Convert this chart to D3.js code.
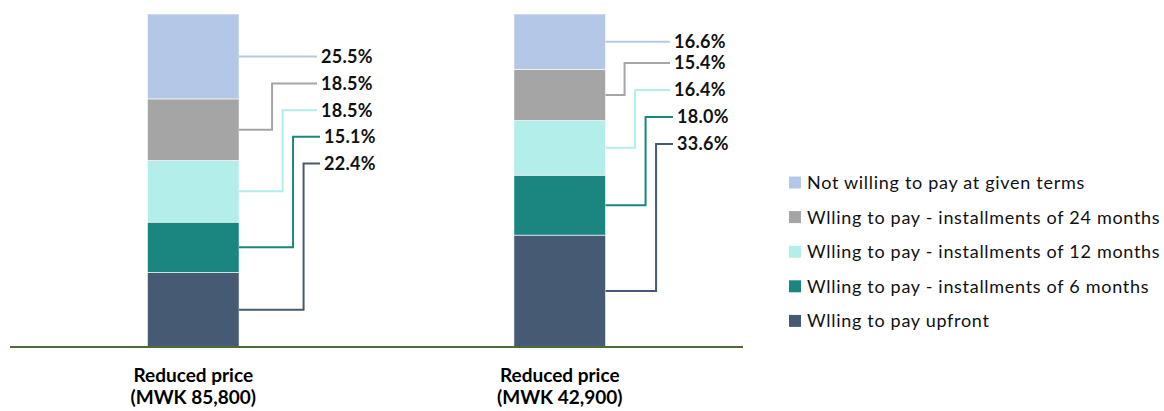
<!DOCTYPE html>
<html><head><meta charset="utf-8">
<script src="https://cdn.jsdelivr.net/npm/d3@7"></script>
<style>
html,body{margin:0;padding:0;background:#fff;}
svg{display:block;font-family:Lato,"Open Sans",sans-serif;}
</style></head>
<body><svg id="chart" width="1164" height="411"></svg>
<script>
// ---- data ----
const categories = ["Reduced price\n(MWK 85,800)", "Reduced price\n(MWK 42,900)"];
const seriesNames = [
  "Wlling to pay upfront",
  "Wlling to pay - installments of 6 months",
  "Wlling to pay - installments of 12 months",
  "Wlling to pay - installments of 24 months",
  "Not willing to pay at given terms"
];
const upfront      = [22.4, 33.6];
const months6      = [15.1, 18.0];
const months12     = [18.5, 16.4];
const months24     = [18.5, 15.4];
const notWilling   = [25.5, 16.6];
const colors = ["#475a73", "#1a867f", "#b3eeeb", "#a5a5a5", "#b4c7e7"];

const seriesValues = [upfront, months6, months12, months24, notWilling];

// ---- layout ----
const svg = d3.select("#chart");
const x = d3.scaleBand().domain(categories).range([10, 743]).paddingInner(0.75).paddingOuter(0.375);
const y = d3.scaleLinear().domain([0, 100]).range([347, 14]);

const rows = categories.map((c, i) => {
  const o = {cat: c};
  seriesNames.forEach((s, k) => o[s] = seriesValues[k][i]);
  return o;
});
const stack = d3.stack().keys(seriesNames)(rows);

// bars
stack.forEach((layer, k) => {
  svg.append("g").selectAll("rect").data(layer).join("rect")
    .attr("x", d => x(d.data.cat))
    .attr("width", x.bandwidth())
    .attr("y", d => y(d[1]))
    .attr("height", d => y(d[0]) - y(d[1]))
    .attr("fill", colors[k])
    .attr("stroke", "#ffffff").attr("stroke-width", 0.6);
});

// axis line
svg.append("line").attr("x1", 10).attr("x2", 743).attr("y1", y(0)).attr("y2", y(0))
  .attr("stroke", "#4f6b3a").attr("stroke-width", 1.8);

// category labels
categories.forEach(c => {
  const t = svg.append("text").attr("x", x(c) + x.bandwidth() / 2).attr("text-anchor", "middle")
    .attr("font-weight", "bold").attr("font-size", 19).attr("fill", "#000");
  c.split("\n").forEach((ln, j) => {
    t.append("tspan").attr("x", x(c) + x.bandwidth() / 2).attr("y", 382 + j * 21.5).text(ln);
  });
});

// leader lines + data labels
const labelTop = [57, 36];        // y of top label per bar
const labelGap = [26.6, 27];
const elbowStart = [33, 19];      // offset of first elbow from bar's right edge
const elbowStep = 10.5;
const labelLineEnd = [317, 670];
categories.forEach((c, i) => {
  const right = x(c) + x.bandwidth();
  for (let r = 0; r < 5; r++) {
    const k = 4 - r;
    const seg = stack[k][i];
    const ym = y((seg[0] + seg[1]) / 2);
    const ly = labelTop[i] + r * labelGap[i];
    const endX = labelLineEnd[i] + (r >= 3 ? 3 : 0);
    let pts;
    if (r === 0) {
      pts = [[right, ym], [endX, ym]];
    } else {
      const ex = right + elbowStart[i] + (r - 1) * elbowStep;
      pts = [[right, ym], [ex, ym], [ex, ly], [endX, ly]];
    }
    svg.append("path").attr("d", d3.line()(pts)).attr("fill", "none")
      .attr("stroke", colors[k]).attr("stroke-width", 2);
    svg.append("text").attr("x", endX + 4).attr("y", r === 0 ? ym : ly).attr("dy", "0.35em")
      .attr("font-weight", "bold").attr("font-size", 18).attr("letter-spacing", 0.3).attr("fill", "#111")
      .text(d3.format(".1f")(seriesValues[k][i]) + "%");
  }
});

// legend
const legend = svg.append("g");
const legendOrder = [4, 3, 2, 1, 0];
legendOrder.forEach((k, j) => {
  const ly = 182.5 + j * 34.6;
  legend.append("rect").attr("x", 789).attr("y", ly - 6).attr("width", 12).attr("height", 12).attr("fill", colors[k]);
  legend.append("text").attr("x", 807).attr("y", ly).attr("dy", "0.36em")
    .attr("font-size", 18).attr("letter-spacing", 0.7).attr("fill", "#111").text(seriesNames[k]);
});
</script></body></html>
